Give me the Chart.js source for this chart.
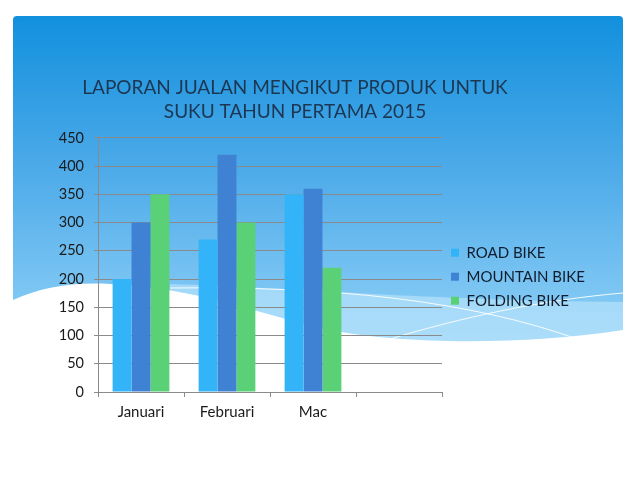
<!DOCTYPE html>
<html>
<head>
<meta charset="utf-8">
<script src="https://cdn.jsdelivr.net/npm/chart.js@4.4.1/dist/chart.umd.min.js"></script>
<style>
  html, body { margin: 0; padding: 0; background: #fff; }
  #wrap { width: 638px; height: 479px; position: relative; }
</style>
</head>
<body>
<div id="wrap"><canvas id="salesChart"></canvas></div>
<script>
// Sales per product, first quarter 2015
const months = ['Januari', 'Februari', 'Mac', ''];
const roadBike = [200, 270, 350, null];
const mountainBike = [300, 420, 360, null];
const foldingBike = [350, 300, 220, null];
const seriesNames = ['ROAD BIKE', 'MOUNTAIN BIKE', 'FOLDING BIKE'];

const fontFamily = 'Lato, "Open Sans", sans-serif';

// Slide background: blue gradient panel with white wave at the bottom
const slideBackground = {
	id: 'slideBackground',
	beforeDraw(chart) {
		const ctx = chart.ctx;
		ctx.save();
		ctx.fillStyle = '#ffffff';
		ctx.fillRect(0, 0, chart.width, chart.height);

		const grad = ctx.createLinearGradient(0, 16, 0, 340);
		grad.addColorStop(0, '#1290dd');
		grad.addColorStop(0.45, '#4aa9e8');
		grad.addColorStop(1, '#8fd0f7');
		ctx.fillStyle = grad;
		ctx.beginPath();
		ctx.moveTo(13, 20);
		ctx.quadraticCurveTo(13, 16, 17, 16);
		ctx.lineTo(619, 16);
		ctx.quadraticCurveTo(623, 16, 623, 20);
		ctx.lineTo(623, 360);
		ctx.lineTo(13, 360);
		ctx.closePath();
		ctx.fill();

		// lighter band
		ctx.fillStyle = 'rgba(190,230,252,0.6)';
		ctx.beginPath();
		ctx.moveTo(170, 284);
		ctx.bezierCurveTo(300, 288, 420, 300, 623, 302);
		ctx.lineTo(623, 360);
		ctx.lineTo(170, 360);
		ctx.closePath();
		ctx.fill();

		// white wave
		ctx.fillStyle = '#ffffff';
		ctx.beginPath();
		ctx.moveTo(13, 300);
		ctx.bezierCurveTo(40, 288, 70, 282, 110, 284);
		ctx.bezierCurveTo(200, 288, 260, 315, 330, 330);
		ctx.bezierCurveTo(400, 344, 520, 346, 623, 330);
		ctx.lineTo(623, 479);
		ctx.lineTo(0, 479);
		ctx.lineTo(0, 300);
		ctx.closePath();
		ctx.fill();

		// thin white lines
		ctx.strokeStyle = 'rgba(255,255,255,0.9)';
		ctx.lineWidth = 1;
		ctx.beginPath();
		ctx.moveTo(170, 288);
		ctx.bezierCurveTo(330, 286, 470, 300, 580, 340);
		ctx.stroke();
		ctx.beginPath();
		ctx.moveTo(390, 339);
		ctx.bezierCurveTo(460, 318, 540, 300, 623, 293);
		ctx.stroke();
		ctx.restore();
	}
};

new Chart(document.getElementById('salesChart'), {
	type: 'bar',
	data: {
		labels: months,
		datasets: [
			{ label: seriesNames[0], data: roadBike, backgroundColor: '#33b4f8' },
			{ label: seriesNames[1], data: mountainBike, backgroundColor: '#3f81d3' },
			{ label: seriesNames[2], data: foldingBike, backgroundColor: '#5ad077' },
		],
	},
	plugins: [slideBackground],
	options: {
		responsive: true,
		maintainAspectRatio: false,
		animation: false,
		layout: {
			padding: { left: 1, right: 49, top: 66, bottom: 52 },
		},
		datasets: {
			bar: { barPercentage: 1, categoryPercentage: 0.66 },
		},
		plugins: {
			title: {
				display: true,
				text: ['LAPORAN JUALAN MENGIKUT PRODUK UNTUK', 'SUKU TAHUN PERTAMA 2015'],
				color: '#1d3652',
				font: { family: fontFamily, size: 19, weight: 'normal', lineHeight: 1.26 },
				padding: { top: 10, bottom: 14 },
			},
			legend: {
				position: 'right',
				title: {
					display: true,
					text: ' ',
					font: { size: 12, lineHeight: 1.2 },
					padding: { top: 0, bottom: 46 },
				},
				labels: {
					color: '#101c2c',
					font: { family: fontFamily, size: 15 },
					boxWidth: 8,
					boxHeight: 8,
					padding: 9,
				},
			},
			tooltip: { enabled: false },
		},
		scales: {
			x: {
				grid: {
					offset: true,
					drawOnChartArea: false,
					drawTicks: true,
					tickLength: 5,
					color: '#8a8a8a',
				},
				border: { color: '#8a8a8a' },
				ticks: {
					color: '#1a1a1a',
					font: { family: fontFamily, size: 15 },
					padding: 6,
				},
			},
			y: {
				min: 0,
				max: 450,
				afterFit(scale) { scale.width = 97; },
				grid: { color: '#8a8a8a', tickLength: 4 },
				border: { color: '#8a8a8a' },
				ticks: {
					stepSize: 50,
					color: '#1a1a1a',
					font: { family: fontFamily, size: 14.5 },
					padding: 10,
				},
			},
		},
	},
});
</script>
</body>
</html>
